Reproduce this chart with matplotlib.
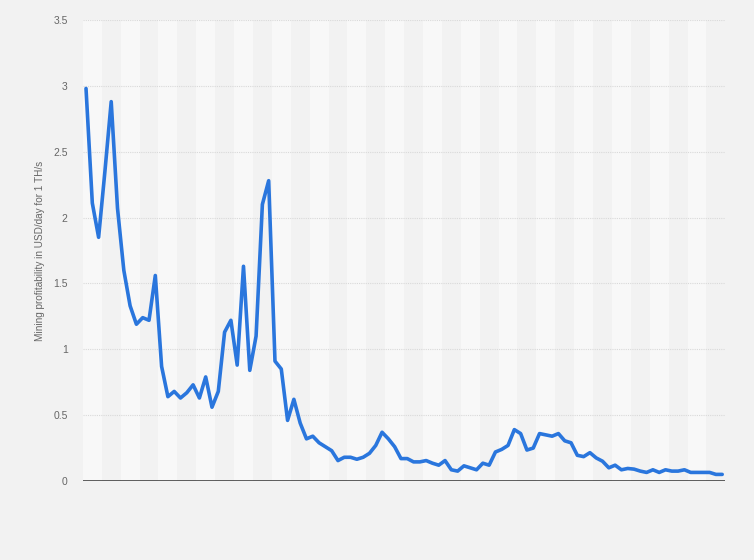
import matplotlib
matplotlib.use("Agg")
import matplotlib.pyplot as plt
import numpy as np

plt.rcParams['font.family'] = ['Liberation Sans', 'DejaVu Sans']

# Data (monthly values, USD/day per 1 TH/s)
profit = [
    2.98, 2.11, 1.85, 2.35, 2.88, 2.07, 1.60, 1.33, 1.19, 1.24,
    1.22, 1.56, 0.87, 0.64, 0.68, 0.63, 0.67, 0.73, 0.63, 0.79,
    0.56, 0.68, 1.13, 1.22, 0.88, 1.63, 0.84, 1.10, 2.10, 2.28,
    0.91, 0.85, 0.46, 0.62, 0.44, 0.32, 0.34, 0.29, 0.26, 0.23,
    0.155, 0.18, 0.18, 0.165, 0.18, 0.21, 0.27, 0.37, 0.32, 0.26,
    0.17, 0.17, 0.145, 0.145, 0.155, 0.135, 0.12, 0.155, 0.085, 0.075,
    0.115, 0.10, 0.085, 0.135, 0.12, 0.22, 0.24, 0.27, 0.39, 0.36,
    0.235, 0.25, 0.36, 0.35, 0.34, 0.36, 0.305, 0.29, 0.195, 0.185,
    0.215, 0.175, 0.15, 0.10, 0.12, 0.085, 0.095, 0.09, 0.075, 0.065,
    0.085, 0.065, 0.085, 0.075, 0.075, 0.085, 0.065, 0.065, 0.065, 0.065,
    0.05, 0.05,
]
y_ticks = [0, 0.5, 1, 1.5, 2, 2.5, 3, 3.5]
y_tick_labels = ["0", "0.5", "1", "1.5", "2", "2.5", "3", "3.5"]
y_label = "Mining profitability in USD/day for 1 TH/s"

x = np.arange(len(profit))

fig = plt.figure(figsize=(7.54, 5.6), dpi=100)
fig.patch.set_facecolor("#f2f2f2")
ax = fig.add_axes([0.1099, 0.1411, 0.962 - 0.1099, 0.9643 - 0.1411])
ax.set_facecolor("#f2f2f2")

# alternating quarterly bands
n = len(profit)
for i, start in enumerate(range(0, n, 3)):
    col = "#f8f8f8" if i % 2 == 0 else "#f2f2f2"
    ax.axvspan(start - 0.5, start + 2.5, ymin=0, ymax=1, color=col, lw=0, zorder=0)

for yt in y_ticks[1:]:
    ax.axhline(yt, color="#d9d9d9", lw=0.8, ls=(0, (1, 1)), zorder=1)

ax.plot(x, profit, color="#2a76dd", lw=2.6, solid_joinstyle="round",
        solid_capstyle="round", zorder=3)

ax.axhline(0, color="#333333", lw=1.1, zorder=4)

ax.set_xlim(-0.5, n - 0.5)
ax.set_ylim(0, 3.5)
ax.set_yticks(y_ticks)
ax.set_yticklabels(y_tick_labels)
ax.set_xticks([])
ax.tick_params(axis="y", length=0, pad=11, labelsize=7.5, labelcolor="#666666")
for s in ax.spines.values():
    s.set_visible(False)

ax.set_ylabel(y_label, fontsize=7.2, color="#666666", labelpad=6)

fig.savefig("out.png", dpi=100, facecolor=fig.get_facecolor())
